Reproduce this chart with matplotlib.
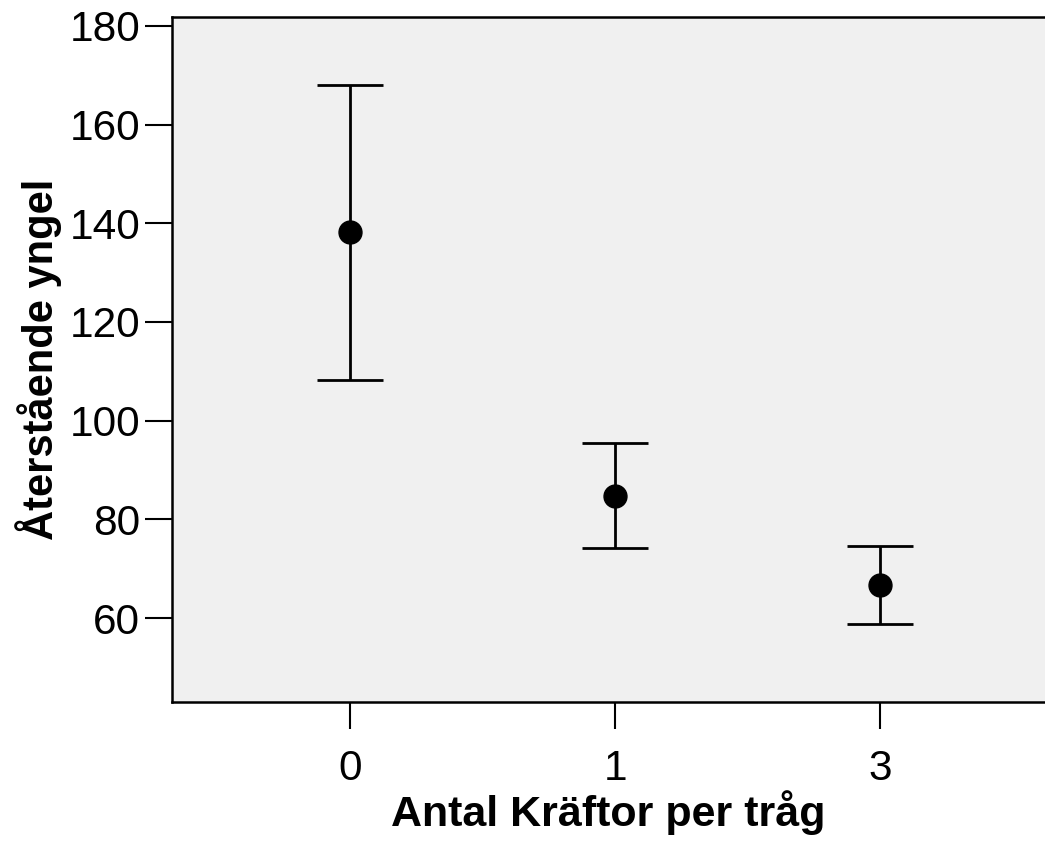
import numpy as np
import matplotlib.pyplot as plt

plt.rcParams['font.family'] = ['Liberation Sans', 'DejaVu Sans']

# group means and 95% CI bounds
groups = ['0', '1', '3']
means = [138.2, 84.8, 66.8]
upper = [168.1, 95.5, 74.6]
lower = [108.2, 74.2, 58.9]

x = np.arange(len(groups))
yerr = [np.array(means) - np.array(lower), np.array(upper) - np.array(means)]

fig = plt.figure(figsize=(10.45, 8.48), dpi=100)
ax = fig.add_axes([0.1646, 0.1722, 0.8354, 0.8078])
ax.set_facecolor('#f0f0f0')

ax.errorbar(x, means, yerr=yerr, fmt='o', color='black', ecolor='black',
            markersize=16.5, elinewidth=2, capsize=24, capthick=2)

ax.set_xlim(-0.67, 2.62)
ax.set_ylim(43.0, 181.8)
ax.set_xticks(x)
ax.set_xticklabels(groups)
ax.set_yticks([60, 80, 100, 120, 140, 160, 180])

ax.spines['right'].set_visible(False)
for s in ['top', 'left', 'bottom']:
    ax.spines[s].set_linewidth(1.8)
ax.tick_params(axis='both', length=19.5, width=1.5, labelsize=30.5)
ax.tick_params(axis='x', pad=14.5)
ax.tick_params(axis='y', pad=3.5)

ax.set_xlabel('Antal Kräftor per tråg', fontsize=31, fontweight='bold', labelpad=1)
ax.set_ylabel('Återstående yngel', fontsize=30, fontweight='bold', labelpad=5)

plt.savefig('out.png', dpi=100)
